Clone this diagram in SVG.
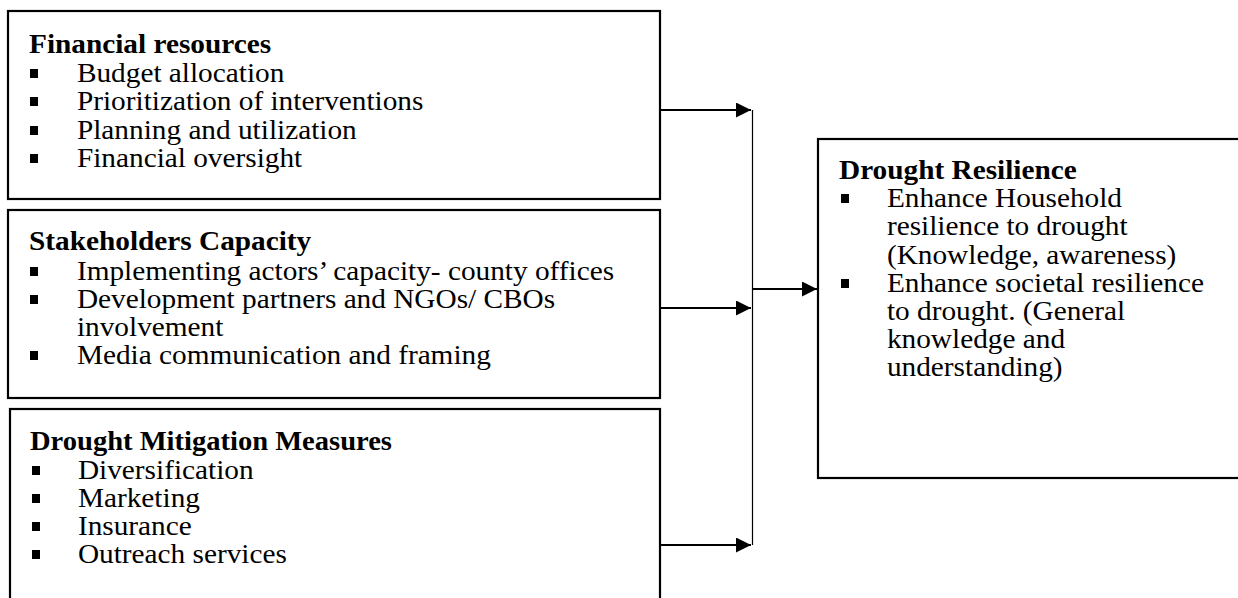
<svg xmlns="http://www.w3.org/2000/svg" width="1238" height="598" viewBox="0 0 1238 598">
<style>
.box{fill:#fff;stroke:#000;stroke-width:2.2}
.t{font-family:"Liberation Serif","Times New Roman",serif;font-size:27px;fill:#000}
.h{font-weight:bold}
.b{fill:#000}
.c{stroke:#000;stroke-width:2;fill:none}
.v{stroke:#000;stroke-width:1.2;fill:none}
</style>
<defs>
<marker id="ah" markerUnits="userSpaceOnUse" markerWidth="16" markerHeight="16" refX="15" refY="7.5" orient="auto">
<path d="M0,0 L15,7.5 L0,15 Z" fill="#000"/>
</marker>
</defs>
<rect width="1238" height="598" fill="#fff"/>
<g id="financial">
<rect class="box" x="8" y="11" width="652" height="188"/>
<g transform="translate(29,0) scale(1.085,1)">
<text class="t h" x="0" y="53">Financial resources</text>
<text class="t" x="44.2" y="82">Budget allocation</text>
<text class="t" x="44.2" y="110">Prioritization of interventions</text>
<text class="t" x="44.2" y="139">Planning and utilization</text>
<text class="t" x="44.2" y="167">Financial oversight</text>
</g>
<rect class="b" x="30" y="69" width="8" height="9"/>
<rect class="b" x="30" y="97" width="8" height="9"/>
<rect class="b" x="30" y="126" width="8" height="9"/>
<rect class="b" x="30" y="154" width="8" height="9"/>
</g>
<g id="stakeholders">
<rect class="box" x="8" y="210" width="652" height="188"/>
<g transform="translate(29,0) scale(1.085,1)">
<text class="t h" x="0" y="250">Stakeholders Capacity</text>
<text class="t" x="44.2" y="280">Implementing actors’ capacity- county offices</text>
<text class="t" x="44.2" y="308">Development partners and NGOs/ CBOs</text>
<text class="t" x="44.2" y="336">involvement</text>
<text class="t" x="44.2" y="364">Media communication and framing</text>
</g>
<rect class="b" x="30" y="267" width="8" height="9"/>
<rect class="b" x="30" y="295" width="8" height="9"/>
<rect class="b" x="30" y="351" width="8" height="9"/>
</g>
<g id="mitigation">
<rect class="box" x="10" y="409" width="650" height="200"/>
<g transform="translate(30,0) scale(1.085,1)">
<text class="t h" x="0" y="450" textLength="333.6" lengthAdjust="spacingAndGlyphs">Drought Mitigation Measures</text>
<text class="t" x="44.2" y="479">Diversification</text>
<text class="t" x="44.2" y="507">Marketing</text>
<text class="t" x="44.2" y="535">Insurance</text>
<text class="t" x="44.2" y="563">Outreach services</text>
</g>
<rect class="b" x="32" y="466" width="8" height="9"/>
<rect class="b" x="32" y="494" width="8" height="9"/>
<rect class="b" x="32" y="522" width="8" height="9"/>
<rect class="b" x="32" y="550" width="8" height="9"/>
</g>
<g id="resilience">
<rect class="box" x="818" y="139" width="440" height="339"/>
<g transform="translate(839,0) scale(1.085,1)">
<text class="t h" x="0" y="179">Drought Resilience</text>
<text class="t" x="44.2" y="207">Enhance Household</text>
<text class="t" x="44.2" y="235">resilience to drought</text>
<text class="t" x="44.2" y="264">(Knowledge, awareness)</text>
<text class="t" x="44.2" y="292">Enhance societal resilience</text>
<text class="t" x="44.2" y="320">to drought. (General</text>
<text class="t" x="44.2" y="348">knowledge and</text>
<text class="t" x="44.2" y="376">understanding)</text>
</g>
<rect class="b" x="841" y="194" width="8" height="9"/>
<rect class="b" x="841" y="279" width="8" height="9"/>
</g>
<g id="connectors">
<line class="c" x1="660" y1="110" x2="751" y2="110" marker-end="url(#ah)"/>
<line class="c" x1="660" y1="308" x2="751" y2="308" marker-end="url(#ah)"/>
<line class="c" x1="660" y1="545" x2="751" y2="545" marker-end="url(#ah)"/>
<line class="v" x1="752.5" y1="110" x2="752.5" y2="545"/>
<line class="c" x1="752" y1="289" x2="817" y2="289" marker-end="url(#ah)"/>
</g>
</svg>
